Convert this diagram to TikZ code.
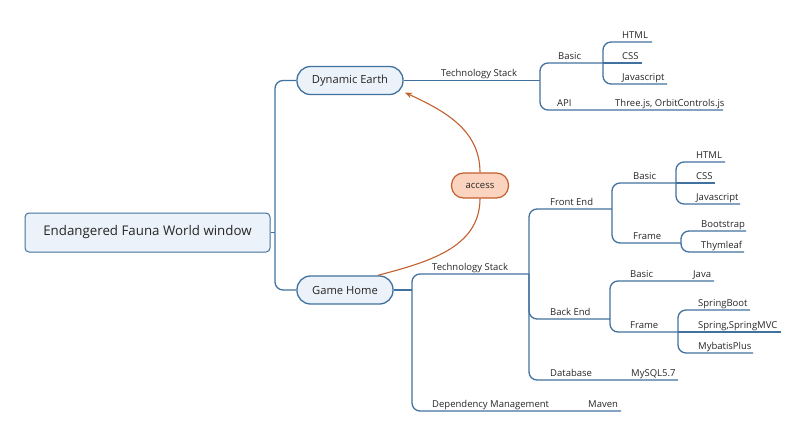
\documentclass[tikz,border=0pt]{standalone}
\usepackage{fontspec}
\setmainfont{Open Sans}
\usetikzlibrary{arrows.meta}
\definecolor{mapblue}{HTML}{41729F}
\definecolor{nodefill}{HTML}{EBF2F9}
\definecolor{accessfill}{HTML}{FBD3BF}
\definecolor{accessline}{HTML}{C25F2C}
\begin{document}
\begin{tikzpicture}[x=1pt, y=-1pt,
        every node/.style={font=\fontsize{9.5}{11}\selectfont, text=black!85},
        topic/.style={anchor=base west, inner sep=0pt},
        root/.style={rectangle, draw=mapblue, fill=nodefill, rounded corners=4pt, line width=1pt, minimum width=245pt, minimum height=39pt, font=\fontsize{13.3}{15}\selectfont},
        main/.style={rectangle, draw=mapblue, fill=nodefill, rounded corners=13.5pt, line width=1.3pt, minimum height=28pt, font=\fontsize{11.2}{13}\selectfont},
        relnode/.style={rectangle, draw=accessline, fill=accessfill, rounded corners=12pt, line width=1.2pt, minimum width=57pt, minimum height=25pt},
        link/.style={draw=mapblue, line width=1.3pt, rounded corners=8pt},
        relation/.style={draw=accessline, line width=1.1pt}
    ]
        \useasboundingbox (0,0) rectangle (807,440);

        % Central topic and main topics
        \node[root] (root) at (147.5,232.5) {Endangered Fauna World window};
        \node[main, minimum width=106pt] (earth) at (350,80.5) {Dynamic Earth};
        \node[main, minimum width=96pt] (home) at (345,290) {Game Home};
        \node[relnode] (access) at (480,185.5) {access};

        \coordinate (rootfork) at (275,232.5);
        \draw[link] (root.east) -- (rootfork);
        \draw[link] (rootfork) |- (earth.west);
        \draw[link] (rootfork) |- (home.west);

        % Dynamic Earth branch
        \coordinate (earthfork) at (540,80.5);
        \coordinate (ebasicfork) at (603,63);
        \coordinate (ehtml) at (652,42);
        \coordinate (ecss) at (642,63);
        \coordinate (ejs) at (667,84);
        \coordinate (eapi) at (723,110);

        \draw[link] (earth.east) -- (earthfork);
        \draw[link] (earthfork) |- (ebasicfork);
        \draw[link] (ebasicfork) |- (ehtml);
        \draw[link] (ebasicfork) -- (ecss);
        \draw[link] (ebasicfork) |- (ejs);
        \draw[link] (earthfork) |- (eapi);

        \node[topic] (etechlbl) at (441,76.5) {Technology Stack};
        \node[topic] (ebasiclbl) at (558,59) {Basic};
        \node[topic] (ehtmllbl) at (622,38) {HTML};
        \node[topic] (ecsslbl) at (622,59) {CSS};
        \node[topic] (ejslbl) at (622,80) {Javascript};
        \node[topic] (eapilbl) at (557,106) {API};
        \node[topic] (ethreelbl) at (615,106) {Three.js, OrbitControls.js};

        % Game Home branch
        \coordinate (homefork) at (412,290);
        \coordinate (techfork) at (529,274);
        \coordinate (maven) at (621,411);

        \draw[link] (home.east) -- (homefork);
        \draw[link] (homefork) |- (techfork);
        \draw[link] (homefork) |- (maven);

        \node[topic] (htechlbl) at (432,270) {Technology Stack};
        \node[topic] (depslbl) at (432,407) {Dependency Management};
        \node[topic] (mavenlbl) at (588,407) {Maven};

        % Technology stack of Game Home
        \coordinate (frontfork) at (612,209);
        \coordinate (backfork) at (610,319);
        \coordinate (mysql) at (678,380);

        \draw[link] (techfork) |- (frontfork);
        \draw[link] (techfork) |- (backfork);
        \draw[link] (techfork) |- (mysql);

        \node[topic] (frontlbl) at (550,205) {Front End};
        \node[topic] (backlbl) at (550,315) {Back End};
        \node[topic] (dblbl) at (550,376) {Database};
        \node[topic] (mysqllbl) at (631,376) {MySQL5.7};

        % Front End
        \coordinate (fbasicfork) at (676,183);
        \coordinate (fframefork) at (681,243);
        \coordinate (fhtml) at (725,162);
        \coordinate (fcss) at (715,183);
        \coordinate (fjs) at (740,204);
        \coordinate (fboot) at (746,231);
        \coordinate (fthym) at (744,252);

        \draw[link] (frontfork) |- (fbasicfork);
        \draw[link] (frontfork) |- (fframefork);
        \draw[link] (fbasicfork) |- (fhtml);
        \draw[link] (fbasicfork) -- (fcss);
        \draw[link] (fbasicfork) |- (fjs);
        \draw[link] (fframefork) |- (fboot);
        \draw[link] (fframefork) |- (fthym);

        \node[topic] (fbasiclbl) at (633,179) {Basic};
        \node[topic] (fframelbl) at (633,239) {Frame};
        \node[topic] (fhtmllbl) at (696,158) {HTML};
        \node[topic] (fcsslbl) at (696,179) {CSS};
        \node[topic] (fjslbl) at (696,200) {Javascript};
        \node[topic] (fbootlbl) at (701,227) {Bootstrap};
        \node[topic] (fthymlbl) at (701,248) {Thymleaf};

        % Back End
        \coordinate (bjava) at (714,281);
        \coordinate (bframefork) at (678,332);
        \coordinate (bsboot) at (750,310);
        \coordinate (bmvc) at (781,332);
        \coordinate (bmybatis) at (753,353);

        \draw[link] (backfork) |- (bjava);
        \draw[link] (backfork) |- (bframefork);
        \draw[link] (bframefork) |- (bsboot);
        \draw[link] (bframefork) -- (bmvc);
        \draw[link] (bframefork) |- (bmybatis);

        \node[topic] (bbasiclbl) at (630,277) {Basic};
        \node[topic] (bjavalbl) at (693,277) {Java};
        \node[topic] (bframelbl) at (630,328) {Frame};
        \node[topic] (bsbootlbl) at (698,306) {SpringBoot};
        \node[topic] (bmvclbl) at (698,328) {Spring,SpringMVC};
        \node[topic] (bmybatislbl) at (698,349) {MybatisPlus};

        % Relationship
        \draw[relation] (home.24) to[out=15,in=-90] (access.south);
        \draw[relation, -{Stealth[length=7pt,width=5.5pt]}, shorten >=1.5pt] (access.north) to[out=90,in=-25] (earth.-12);
    \end{tikzpicture}
\end{document}
